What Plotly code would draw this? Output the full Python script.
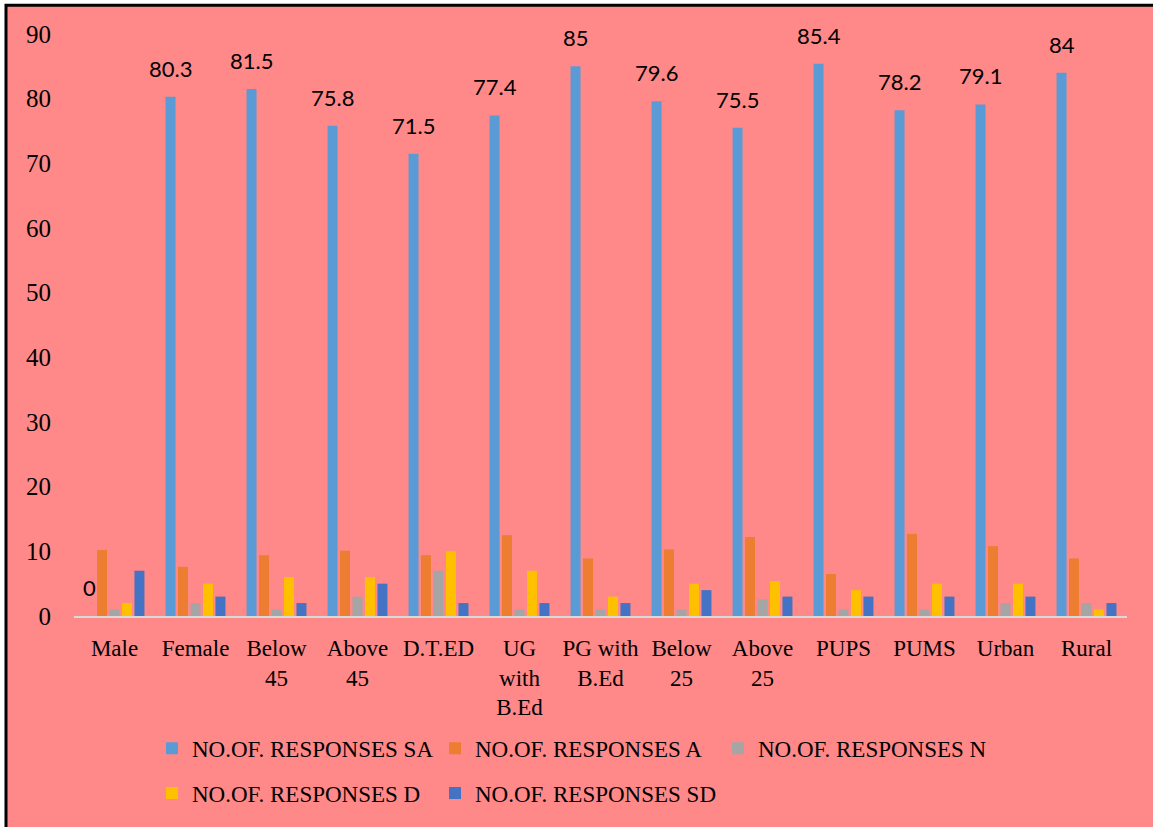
import plotly.graph_objects as go

# Categories and response counts per group
categories = ["Male", "Female", "Below<br>45", "Above<br>45", "D.T.ED", "UG<br>with<br>B.Ed",
              "PG with<br>B.Ed", "Below<br>25", "Above<br>25", "PUPS", "PUMS", "Urban", "Rural"]
sa = [0, 80.3, 81.5, 75.8, 71.5, 77.4, 85, 79.6, 75.5, 85.4, 78.2, 79.1, 84]
a = [10.2, 7.6, 9.4, 10.1, 9.4, 12.5, 8.9, 10.3, 12.2, 6.5, 12.7, 10.8, 8.9]
n = [1, 2, 1, 3, 7, 1, 1, 1, 2.6, 1, 1, 2, 2]
d = [2, 5, 6, 6, 10, 7, 3, 5, 5.4, 4, 5, 5, 1]
sd = [7, 3, 2, 5, 2, 2, 2, 4, 3, 3, 3, 3, 2]

series = [
    ("NO.OF. RESPONSES SA", sa, "#5B9BD5", "legend"),
    ("NO.OF. RESPONSES A", a, "#ED7D31", "legend"),
    ("NO.OF. RESPONSES N", n, "#A5A5A5", "legend"),
    ("NO.OF. RESPONSES D", d, "#FFC000", "legend2"),
    ("NO.OF. RESPONSES SD", sd, "#4472C4", "legend2"),
]

W, H = 1153, 827
L, R, T, B = 74, 1127, 34, 619
BG = "#FF8888"
SERIF = "Liberation Serif"


def px2x(px):
    return (px - L) / (R - L)


def py2y(py):
    return (B - py) / (B - T)


fig = go.Figure()
for name, vals, color, leg in series:
    fig.add_trace(go.Bar(x=categories, y=vals, name=name, marker_color=color,
                         marker_line_width=0, legend=leg))

# Value labels above the SA bars (first bar of each group)
for cat, v in zip(categories, sa):
    fig.add_annotation(x=cat, y=v, xref="x", yref="y", text=f"{v:g}", showarrow=False,
                       xshift=-25, yshift=13, yanchor="bottom",
                       font=dict(family="Lato", size=22, color="#000"))

# Pink panel with black frame
fig.add_shape(type="rect", xref="paper", yref="paper", layer="below",
              x0=px2x(6), x1=px2x(W + 20), y0=py2y(H + 20), y1=py2y(5),
              fillcolor=BG, line=dict(color="#000", width=3))

legend_common = dict(orientation="h", xanchor="left", yanchor="middle",
                     font=dict(family=SERIF, size=23, color="#000"),
                     bgcolor="rgba(0,0,0,0)", entrywidth=238, itemwidth=30,
                     traceorder="normal")

fig.update_layout(
    width=W, height=H,
    margin=dict(l=L, r=W - R, t=T, b=H - B, pad=0),
    paper_bgcolor="#FFFFFF", plot_bgcolor="rgba(0,0,0,0)",
    barmode="group", bargap=0.23, bargroupgap=0.2,
    showlegend=True,
    legend=dict(x=px2x(152), y=py2y(752), **legend_common),
    legend2=dict(x=px2x(152), y=py2y(797), **legend_common),
    xaxis=dict(showline=True, linecolor="#D9D9D9", linewidth=2, showgrid=False,
               ticks="outside", ticklen=10, tickcolor="rgba(0,0,0,0)",
               tickfont=dict(family=SERIF, size=23, color="#000"), tickangle=0),
    yaxis=dict(range=[0, 90], dtick=10, showgrid=False, zeroline=False, showline=False,
               ticks="outside", ticklen=17, tickcolor="rgba(0,0,0,0)",
               tickfont=dict(family=SERIF, size=25, color="#000")),
)

fig.write_html("out.html")
